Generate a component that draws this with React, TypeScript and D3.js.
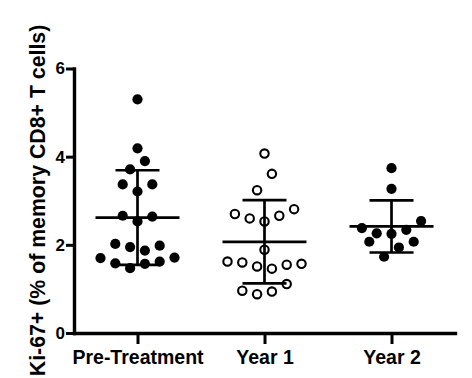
import React, { useEffect, useRef } from "react";
import * as d3 from "d3";

const categories = ["Pre-Treatment", "Year 1", "Year 2"];

const preTreatment = [5.3, 4.19, 3.9, 3.71, 3.37, 3.37, 3.21, 2.66, 2.64, 2.53, 2.02, 1.98, 1.95, 1.87, 1.7, 1.71, 1.58, 1.62, 1.57, 1.47];
const preTreatmentSlots = [0, 0, 1, -1, -2, 2, 0, -2, 2, 0, -3, 3, -1, 1, -5, 5, -3, 3, 1, -1];

const year1 = [4.07, 3.61, 3.24, 2.81, 2.7, 2.6, 2.66, 2.53, 1.89, 1.62, 1.6, 1.51, 1.46, 1.55, 1.57, 0.96, 0.88, 0.94, 1.11];
const year1Slots = [0, 1, -1, 4, -4, -2, 2, 0, 0, -5, -3, -1, 1, 3, 5, -3, -1, 1, 3];

const year2 = [3.74, 3.27, 2.54, 2.38, 2.26, 2.25, 2.34, 2.07, 2.07, 1.94, 1.73];
const year2Slots = [0, 0, 4, -4, -2, 0, 2, -3, 3, 1, -1];

const yTicks = [0, 2, 4, 6];

const W = 472;
const H = 378;
const FONT = "'Liberation Sans', Arial, Helvetica, sans-serif";

const x = d3.scalePoint<string>().domain(categories).range([74, 455]).padding(0.5);
const y = d3.scaleLinear().domain([0, 6]).range([333, 68.5]);
const slot = d3.scaleLinear().domain([0, 1]).range([0, 7.4]);

const groups = [
  { name: categories[0], values: preTreatment, slots: preTreatmentSlots, filled: true },
  { name: categories[1], values: year1, slots: year1Slots, filled: false },
  { name: categories[2], values: year2, slots: year2Slots, filled: true },
];

export default function App() {
  const xRef = useRef<SVGGElement>(null);
  const yRef = useRef<SVGGElement>(null);

  useEffect(() => {
    const gx = d3.select(xRef.current!);
    gx.call(d3.axisBottom(x).tickSize(11).tickSizeOuter(0).tickPadding(6) as any);
    gx.select(".domain").style("stroke-width", "3.4px").style("stroke-linecap", "square").style("stroke", "#000");
    gx.selectAll(".tick line").style("stroke-width", "3px").style("stroke", "#000");
    gx.selectAll(".tick text")
      .style("fill", "#000")
      .style("font-family", FONT)
      .style("font-size", "19.5px")
      .style("font-weight", "bold");

    const gy = d3.select(yRef.current!);
    gy.call(d3.axisLeft(y).tickValues(yTicks).tickSize(8).tickSizeOuter(0).tickPadding(1).tickFormat(d3.format("d")) as any);
    gy.select(".domain").style("stroke-width", "3.4px").style("stroke-linecap", "square").style("stroke", "#000");
    gy.selectAll(".tick line").style("stroke-width", "3px").style("stroke", "#000");
    gy.selectAll(".tick text")
      .style("fill", "#000")
      .style("font-family", FONT)
      .style("font-size", "17px")
      .style("font-weight", "bold");
  }, []);

  return (
    <svg width={W} height={H} style={{ position: "absolute", left: 0, top: 0, background: "#fff" }}>
      <rect width={W} height={H} fill="#fff" />
      {groups.map((g) => {
        const cx = x(g.name)!;
        const mean = d3.mean(g.values)!;
        const sd = d3.deviation(g.values)!;
        return (
          <g key={g.name}>
            {g.values.map((v, i) => (
              <circle
                key={i}
                cx={cx + slot(g.slots[i])}
                cy={y(v)}
                r={g.filled ? 5.1 : 4.2}
                fill={g.filled ? "#000" : "#fff"}
                stroke="#000"
                strokeWidth={g.filled ? 0 : 2.1}
              />
            ))}
            <line x1={cx} x2={cx} y1={y(mean + sd)} y2={y(mean - sd)} stroke="#000" strokeWidth={2.7} />
            <line x1={cx - 22} x2={cx + 22} y1={y(mean + sd)} y2={y(mean + sd)} stroke="#000" strokeWidth={2.7} />
            <line x1={cx - 22} x2={cx + 22} y1={y(mean - sd)} y2={y(mean - sd)} stroke="#000" strokeWidth={2.7} />
            <line x1={cx - 42} x2={cx + 42} y1={y(mean)} y2={y(mean)} stroke="#000" strokeWidth={2.7} />
          </g>
        );
      })}
      <g ref={xRef} transform={`translate(0,${y(0)})`} />
      <g ref={yRef} transform={`translate(${74},0)`} />
      <text
        transform={`translate(45,${200.5}) rotate(-90)`}
        textAnchor="middle"
        fontFamily={FONT}
        fontWeight="bold"
        fontSize={21.3}
        fill="#000"
      >
        Ki-67+ (% of memory CD8+ T cells)
      </text>
    </svg>
  );
}
